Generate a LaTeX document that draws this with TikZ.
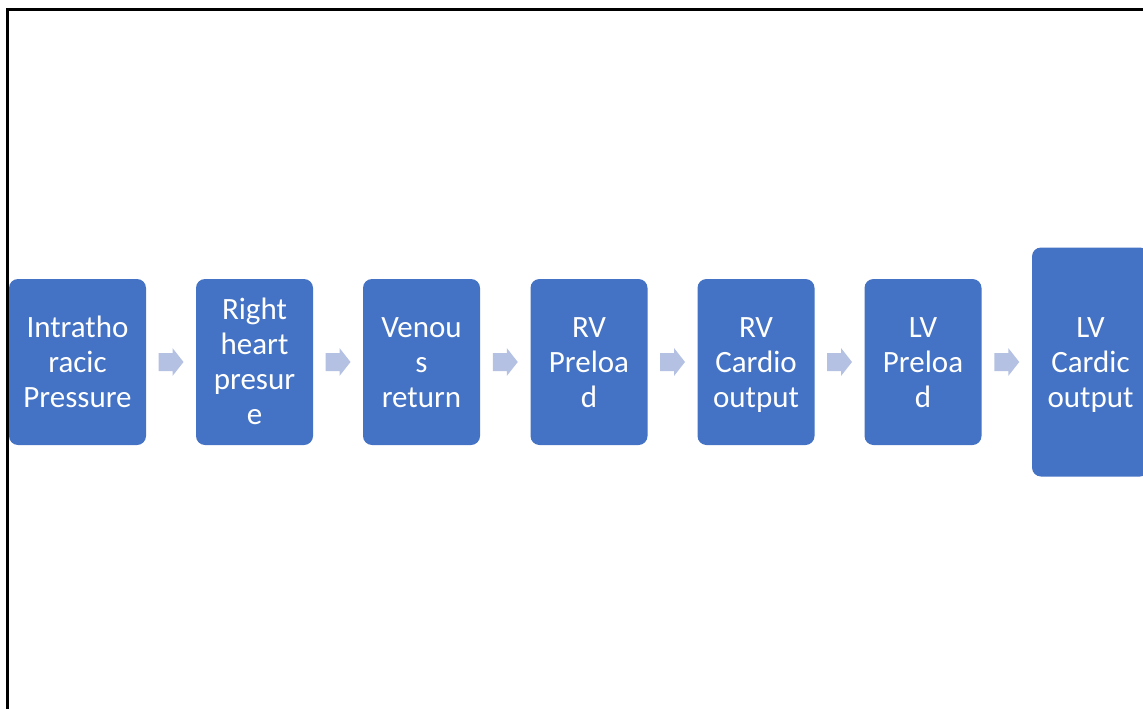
\documentclass[tikz,border=0pt]{standalone}
\usepackage{fontspec}
\setmainfont{Carlito}
\usetikzlibrary{calc}
\definecolor{boxblue}{HTML}{4472C4}
\definecolor{arrowblue}{HTML}{B4C1E2}
\newcommand{\topstrut}{\rule{0pt}{30.5pt}}
\tikzset{
  stepbox/.style={fill=boxblue, rounded corners=9pt, text=white, align=center,
    minimum width=117pt, minimum height=166pt, inner sep=0pt,
    font=\fontsize{31}{35}\selectfont},
  flowarrow/.style={fill=arrowblue}
}
\begin{document}
\begin{tikzpicture}[x=1pt,y=-1pt]
\useasboundingbox (0,0) rectangle (1143,709);
\draw[line width=3pt] (7,712) -- (7,10) -- (1146,10);
\node[stepbox, minimum width=137pt] (b1) at (77.5,362) {\topstrut Intratho\\racic\\Pressure\strut};
\node[stepbox] (b2) at (254.5,362) {\topstrut Right\\heart\\presur\\e\strut};
\node[stepbox] (b3) at (421.5,362) {\topstrut Venou\\s\\return\strut};
\node[stepbox] (b4) at (589,362) {\topstrut RV\\Preloa\\d\strut};
\node[stepbox] (b5) at (756,362) {\topstrut RV\\Cardio\\output\strut};
\node[stepbox] (b6) at (923,362) {\topstrut LV\\Preloa\\d\strut};
\node[stepbox, minimum height=229pt] (b7) at (1090.5,362) {\topstrut LV\\Cardic\\output\strut};
\foreach \i/\j in {1/2,2/3,3/4,4/5,5/6,6/7}{
  \coordinate (a\i) at ($(b\i.east)!0.5!(b\j.west)$);
  \fill[flowarrow] ($(a\i)+(-12.5,-9)$) -- ($(a\i)+(1.5,-9)$) -- ($(a\i)+(1.5,-14)$)
    -- ($(a\i)+(12.5,0)$) -- ($(a\i)+(1.5,14)$) -- ($(a\i)+(1.5,9)$)
    -- ($(a\i)+(-12.5,9)$) -- cycle;
}
\end{tikzpicture}
\end{document}
